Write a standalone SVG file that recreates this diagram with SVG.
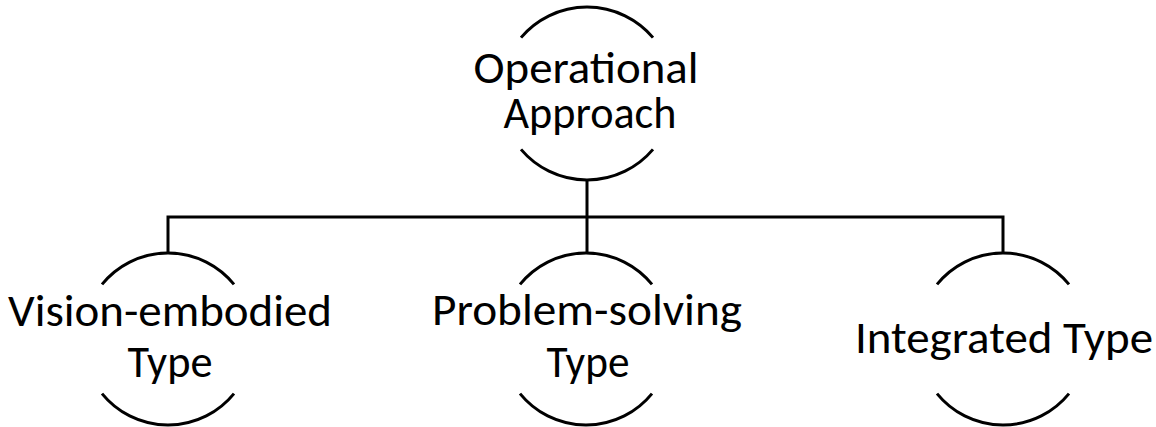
<svg xmlns="http://www.w3.org/2000/svg" width="1156" height="427" viewBox="0 0 1156 427">
<style>
.arc{fill:none;stroke:#000;stroke-width:3}
.ln{fill:none;stroke:#000;stroke-width:3}
.t{font-family:"Carlito","Liberation Sans",Arial,sans-serif;font-size:46px;fill:#000;text-anchor:middle}
</style>
<rect width="1156" height="427" fill="#fff"/>
<g id="connectors">
<path class="ln" d="M587,180 V217 M168,254 V217 H1003 V254 M587,217 V254"/>
</g>
<g id="node-operational">
<path class="arc" d="M521,37.6 A86.5,86.5 0 0 1 653,37.6"/>
<path class="arc" d="M521,149.4 A86.5,86.5 0 0 0 653,149.4"/>
<text class="t" x="586" y="83" textLength="225" lengthAdjust="spacingAndGlyphs">Operational</text>
<text class="t" x="590" y="128" textLength="173" lengthAdjust="spacingAndGlyphs">Approach</text>
</g>
<g id="node-vision">
<path class="arc" d="M102,284.4 A85,85 0 0 1 234,284.4"/>
<path class="arc" d="M102,393.6 A85,85 0 0 0 234,393.6"/>
<text class="t" x="170" y="326" textLength="324" lengthAdjust="spacingAndGlyphs">Vision-embodied</text>
<text class="t" x="170" y="377" textLength="85" lengthAdjust="spacingAndGlyphs">Type</text>
</g>
<g id="node-problem">
<path class="arc" d="M520,284.4 A85,85 0 0 1 652,284.4"/>
<path class="arc" d="M520,393.6 A85,85 0 0 0 652,393.6"/>
<text class="t" x="587" y="325" textLength="310" lengthAdjust="spacingAndGlyphs">Problem-solving</text>
<text class="t" x="588" y="377" textLength="83" lengthAdjust="spacingAndGlyphs">Type</text>
</g>
<g id="node-integrated">
<path class="arc" d="M937,284.4 A85,85 0 0 1 1069,284.4"/>
<path class="arc" d="M937,393.6 A85,85 0 0 0 1069,393.6"/>
<text class="t" x="1004" y="353" textLength="298" lengthAdjust="spacingAndGlyphs">Integrated Type</text>
</g>
</svg>
